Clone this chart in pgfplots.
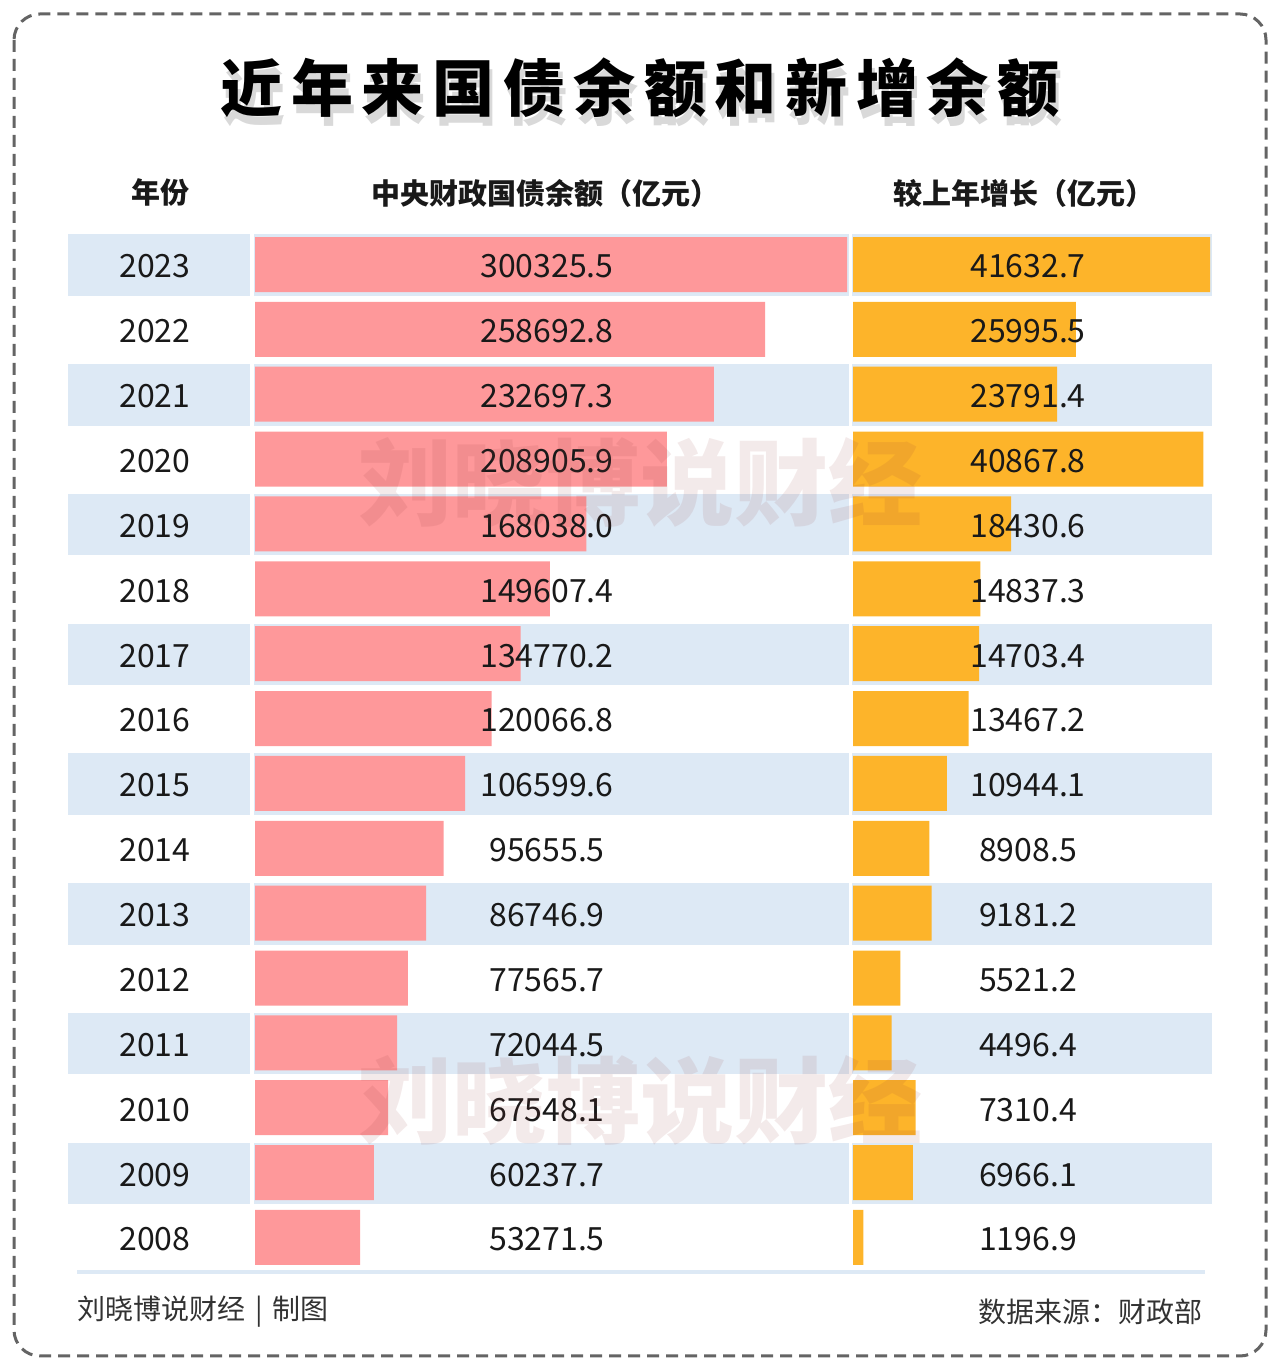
\documentclass[border=0pt]{standalone}
\usepackage{pgfplots}
\pgfplotsset{compat=1.18}
\usepackage{pgfplotstable}
\usepackage{fontspec}
\setmainfont{Noto Sans CJK SC}
\definecolor{pinkbar}{RGB}{254,152,154}
\definecolor{orangebar}{RGB}{253,180,42}
\definecolor{band}{RGB}{221,233,245}
\definecolor{wm}{RGB}{150,60,60}
\definecolor{txt}{RGB}{25,25,25}
\definecolor{foot}{RGB}{50,50,50}
\definecolor{border}{RGB}{100,100,100}

\pgfplotstableread{
year debt inc
2023 300325.5 41632.7
2022 258692.8 25995.5
2021 232697.3 23791.4
2020 208905.9 40867.8
2019 168038.0 18430.6
2018 149607.4 14837.3
2017 134770.2 14703.4
2016 120066.8 13467.2
2015 106599.6 10944.1
2014 95655.5 8908.5
2013 86746.9 9181.2
2012 77565.7 5521.2
2011 72044.5 4496.4
2010 67548.1 7310.4
2009 60237.7 6966.1
2008 53271.5 1196.9
}\data

\newcommand\numfont{\fontsize{16}{16}\selectfont}
\newcommand\gp{\hspace{4.3pt}}

\begin{document}
\begin{tikzpicture}
\begin{scope}[x=0.5pt, y=-0.5pt, shift={(0pt,684pt)}]
  \path (0,0) rectangle (1280,1368);
  % border
  \draw[border, line width=1.5pt, dash pattern=on 6pt off 3.5pt, rounded corners=13pt] (14,14) rectangle (1266,1356);
  % title shadow + title
  \node[text=black!15, font=\fontsize{31}{31}\selectfont\bfseries] at (643,97) {近\gp 年\gp 来\gp 国\gp 债\gp 余\gp 额\gp 和\gp 新\gp 增\gp 余\gp 额};
  \node[text=black, font=\fontsize{31}{31}\selectfont\bfseries] at (640,88) {近\gp 年\gp 来\gp 国\gp 债\gp 余\gp 额\gp 和\gp 新\gp 增\gp 余\gp 额};
  % headers
  \node[text=txt, font=\fontsize{14.5}{14.5}\selectfont\bfseries] at (160,193) {年份};
  \node[text=txt, font=\fontsize{14.5}{14.5}\selectfont\bfseries] at (545,193) {中央财政国债余额（亿元）};
  \node[text=txt, font=\fontsize{14.5}{14.5}\selectfont\bfseries] at (1024,193) {较上年增长（亿元）};
  % bands
  \foreach \i in {0,2,...,14} {
    \pgfmathsetmacro\yc{264.5+64.87*\i}
    \fill[band] (68,\yc-30) rectangle (250,\yc+31.5);
    \fill[band] (254,\yc-30) rectangle (849,\yc+31.5);
    \fill[band] (852,\yc-30) rectangle (1212,\yc+31.5);
  }
  % bottom line
  \draw[band, line width=2pt] (77,1272) -- (1205,1272);
  % footer
  \node[anchor=west, text=foot, font=\fontsize{14}{14}\selectfont, inner sep=0] at (77,1312) {刘晓博说财经\hspace{5pt}|\hspace{5pt}制图};
  \node[anchor=east, text=foot, font=\fontsize{14}{14}\selectfont, inner sep=0] at (1203,1312) {数据来源：财政部};
\end{scope}

\begin{axis}[
  at={(127.5pt,49.05pt)}, anchor=south west,
  scale only axis, width=296.5pt, height=518.9pt,
  xmin=0, xmax=300800, ymin=2007.5, ymax=2023.5,
  enlargelimits=false, clip=false,
  axis line style={draw=none}, major tick style={draw=none},
  xtick=\empty,
  ytick={2008,2009,2010,2011,2012,2013,2014,2015,2016,2017,2018,2019,2020,2021,2022,2023},
  yticklabels={2008,2009,2010,2011,2012,2013,2014,2015,2016,2017,2018,2019,2020,2021,2022,2023},
  yticklabel style={anchor=center, xshift=-50pt, yshift=-1pt, font=\numfont, text=txt},
]
\addplot[xbar, fill=pinkbar, draw=none, bar width=27.5pt] table[x=debt, y=year] {\data};
\addplot[draw=none, mark=none, nodes near coords, point meta=explicit symbolic,
  nodes near coords style={anchor=center, yshift=-1pt, font=\numfont, text=txt}]
  table[x expr=148115, y=year, meta=debt] {\data};
\end{axis}

\begin{axis}[
  at={(426.5pt,49.05pt)}, anchor=south west,
  scale only axis, width=179.5pt, height=518.9pt,
  xmin=0, xmax=41866, ymin=2007.5, ymax=2023.5,
  enlargelimits=false, clip=false,
  axis line style={draw=none}, major tick style={draw=none},
  xtick=\empty, ytick=\empty,
]
\addplot[xbar, fill=orangebar, draw=none, bar width=27.5pt] table[x=inc, y=year] {\data};
\addplot[draw=none, mark=none, nodes near coords, point meta=explicit symbolic,
  nodes near coords style={anchor=center, yshift=-1pt, font=\numfont, text=txt}]
  table[x expr=20408, y=year, meta=inc] {\data};
\end{axis}

\begin{scope}[x=0.5pt, y=-0.5pt, shift={(0pt,684pt)}]
  \node[text=wm, text opacity=0.11, font=\fontsize{47}{47}\selectfont\bfseries] at (640,482) {刘晓博说财经};
  \node[text=wm, text opacity=0.11, font=\fontsize{47}{47}\selectfont\bfseries] at (640,1100) {刘晓博说财经};
\end{scope}
\pgfresetboundingbox
\path[use as bounding box] (0,0) rectangle (640pt,684pt);
\end{tikzpicture}
\end{document}
